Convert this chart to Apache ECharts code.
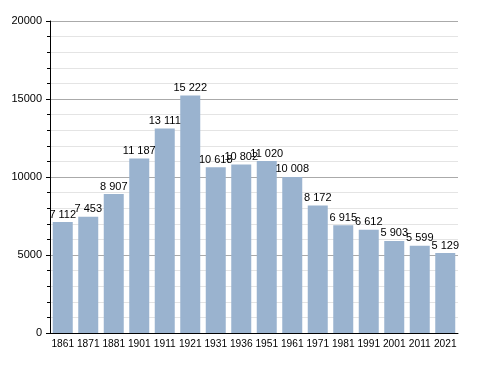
<!DOCTYPE html>
<html><head><meta charset="utf-8">
<script src="https://cdn.jsdelivr.net/npm/echarts@6/dist/echarts.min.js"></script>
<style>html,body{margin:0;padding:0;background:#fff}#c{width:488px;height:373px}</style>
</head><body><div id="c"></div>
<script>
var years = ['1861','1871','1881','1901','1911','1921','1931','1936','1951','1961','1971','1981','1991','2001','2011','2021'];
var population = [7112,7453,8907,11187,13111,15222,10618,10802,11020,10008,8172,6915,6612,5903,5599,5129];
var yTicks = [0,5000,10000,15000,20000];
function fmt(v){return String(v).replace(/\B(?=(\d{3})+(?!\d))/g,' ');}
var chart = echarts.init(document.getElementById('c'));
chart.setOption({
  animation:false,
  textStyle:{fontFamily:'Liberation Sans, Arial, sans-serif'},
  grid:{left:50,top:21,right:30,bottom:40},
  xAxis:{type:'category',data:years,
    axisLine:{lineStyle:{color:'#000',width:1}},
    axisTick:{show:false},
    axisLabel:{color:'#000',fontSize:10.2,margin:6,interval:0}},
  yAxis:{type:'value',min:yTicks[0],max:yTicks[yTicks.length-1],interval:5000,
    axisLine:{show:true,lineStyle:{color:'#000'}},
    axisTick:{show:true,length:4,lineStyle:{color:'#000'}},
    minorTick:{show:true,splitNumber:5,length:3,lineStyle:{color:'#000'}},
    splitLine:{lineStyle:{color:'#aaa'}},
    minorSplitLine:{show:true,lineStyle:{color:'#e4e4e4'}},
    axisLabel:{color:'#000',fontSize:11,margin:8,formatter:function(v){return String(v);}}},
  series:[{type:'bar',data:population,barWidth:20,
    itemStyle:{color:'#9ab3cf'},
    label:{show:true,position:'top',distance:2,color:'#000',fontSize:11,formatter:function(p){return fmt(p.value);}}}]
});
</script></body></html>
